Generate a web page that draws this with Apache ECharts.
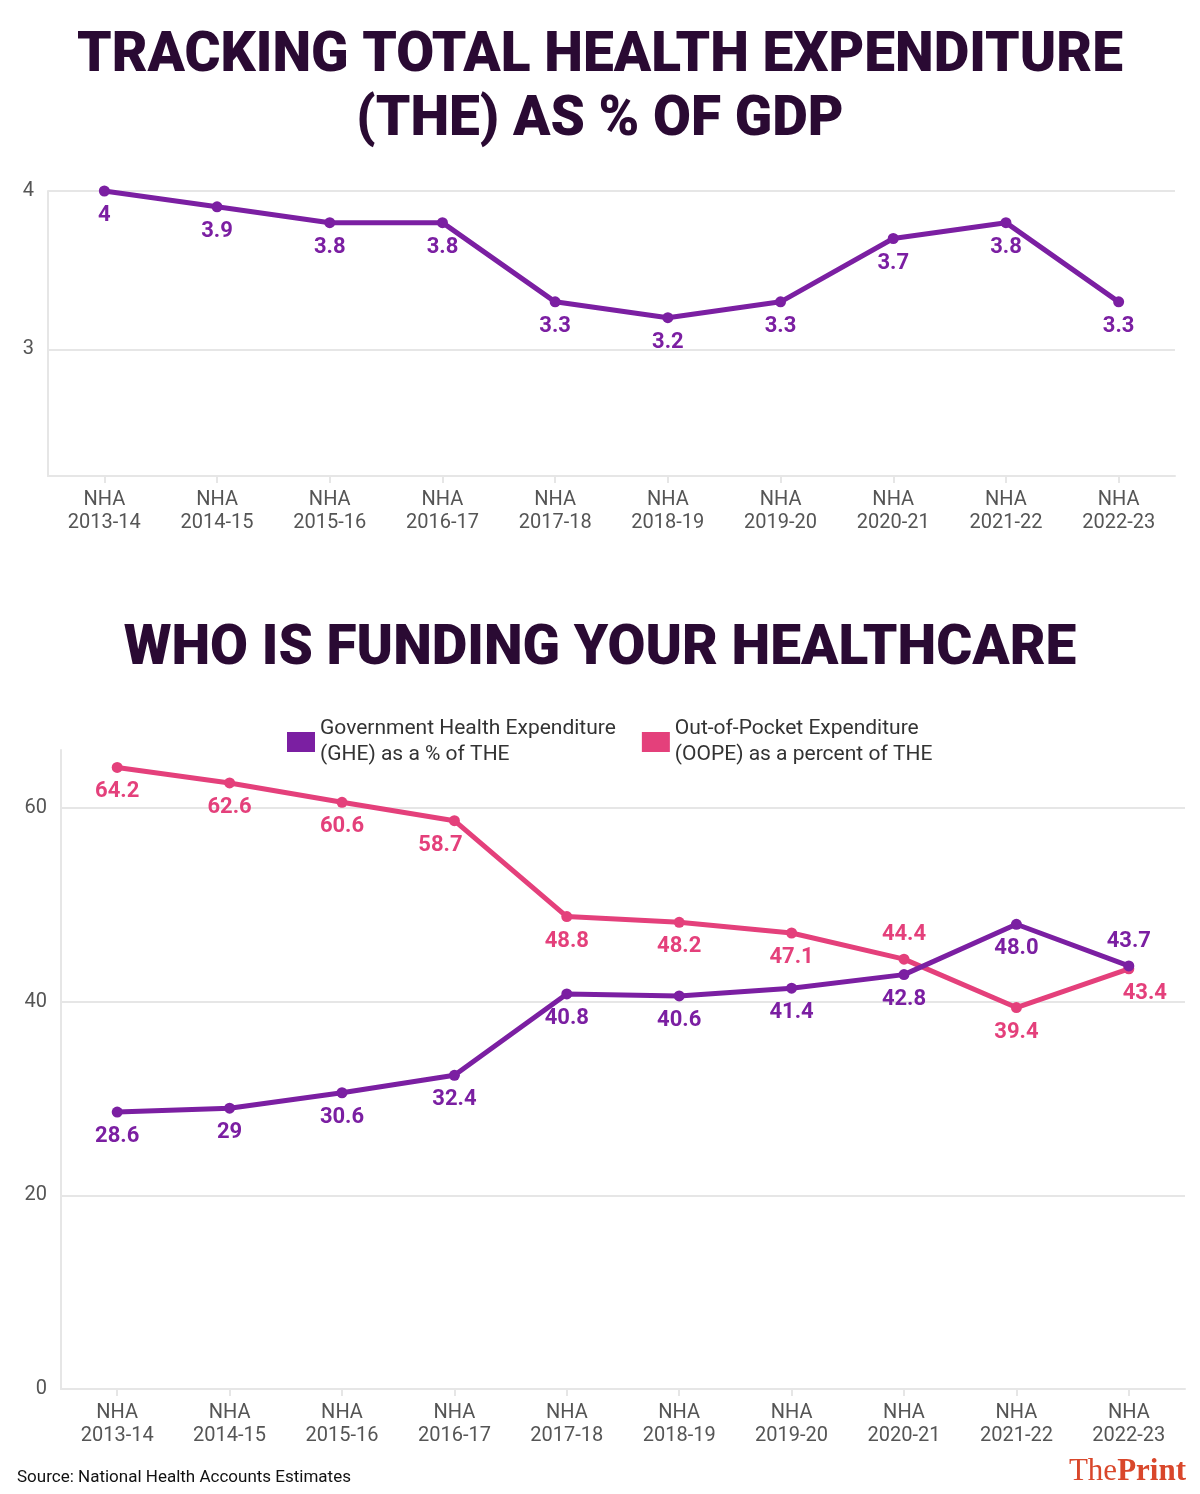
<!DOCTYPE html>
<html lang="en">
<head>
<meta charset="UTF-8">
<title>Health expenditure</title>
<script src="https://cdn.jsdelivr.net/npm/echarts@6/dist/echarts.min.js"></script>
<style>
  html, body { margin: 0; padding: 0; background: #fff; }
  #main { width: 1200px; height: 1494px; }
</style>
</head>
<body>
<div id="main"></div>
<script>
// data
var years = ['NHA\n2013-14', 'NHA\n2014-15', 'NHA\n2015-16', 'NHA\n2016-17', 'NHA\n2017-18',
             'NHA\n2018-19', 'NHA\n2019-20', 'NHA\n2020-21', 'NHA\n2021-22', 'NHA\n2022-23'];
var theGdp = [4, 3.9, 3.8, 3.8, 3.3, 3.2, 3.3, 3.7, 3.8, 3.3];
var ghe = [28.6, 29, 30.6, 32.4, 40.8, 40.6, 41.4, 42.8, 48.0, 43.7];
var gheText = ['28.6', '29', '30.6', '32.4', '40.8', '40.6', '41.4', '42.8', '48.0', '43.7'];
var oope = [64.2, 62.6, 60.6, 58.7, 48.8, 48.2, 47.1, 44.4, 39.4, 43.4];
var oopeText = ['64.2', '62.6', '60.6', '58.7', '48.8', '48.2', '47.1', '44.4', '39.4', '43.4'];

var purple = '#7b1fa2';
var pink = '#e4407b';
var font = 'Roboto, "Noto Sans", sans-serif';

var chart = echarts.init(document.getElementById('main'));

function axisX(grid) {
    return {
        type: 'category', gridIndex: grid, data: years,
        axisLine: { lineStyle: { color: '#e6e6e6', width: 2 } },
        axisTick: { show: true, alignWithLabel: true, lineStyle: { color: '#e6e6e6', width: 2 }, length: 7 },
        axisLabel: { color: '#555', fontSize: 20, fontFamily: font, lineHeight: 23, margin: 12 }
    };
}

var option = {
    backgroundColor: '#fff',
    title: [
        { text: 'TRACKING TOTAL HEALTH EXPENDITURE\n(THE) AS % OF GDP', left: 'center', top: 20,
          textStyle: { color: '#2a0a33', fontSize: 55, fontWeight: 900, fontFamily: font, lineHeight: 64 } },
        { text: 'WHO IS FUNDING YOUR HEALTHCARE', left: 'center', top: 618,
          textStyle: { color: '#2a0a33', fontSize: 55, fontWeight: 900, fontFamily: font } }
    ],
    legend: {
        top: 711, left: 282, itemGap: 26, itemWidth: 28, itemHeight: 20, icon: 'rect',
        data: ['Government Health Expenditure\n(GHE) as a % of THE', 'Out-of-Pocket Expenditure\n(OOPE) as a percent of THE'],
        textStyle: { color: '#333', fontSize: 21, fontFamily: font, lineHeight: 26 }
    },
    grid: [
        { left: 48, right: 25, top: 191, bottom: 1018 },
        { left: 61, right: 15, top: 750, bottom: 105 }
    ],
    xAxis: [axisX(0), axisX(1)],
    yAxis: [
        { type: 'value', gridIndex: 0, min: 2.2, max: 4, interval: 0.1,
          axisLine: { show: true, lineStyle: { color: '#e6e6e6', width: 2 } },
          axisTick: { show: false }, splitLine: { show: false },
          axisLabel: { color: '#555', fontSize: 20, fontFamily: font, margin: 14,
                       formatter: function (v) { return Math.abs(v - Math.round(v)) < 1e-6 ? String(Math.round(v)) : ''; } } },
        { type: 'value', gridIndex: 1, min: 0, max: 66, interval: 20,
          axisLine: { show: true, lineStyle: { color: '#e6e6e6', width: 2 } },
          axisTick: { show: false },
          splitLine: { showMaxLine: false, lineStyle: { color: '#e6e6e6', width: 2 } },
          axisLabel: { color: '#555', fontSize: 20, fontFamily: font, margin: 14, showMaxLabel: false } }
    ],
    series: [
        { type: 'line', xAxisIndex: 0, yAxisIndex: 0, data: theGdp, color: purple,
          symbol: 'circle', symbolSize: 11, lineStyle: { width: 5 },
          label: { show: true, position: 'bottom', distance: 8, color: purple, fontSize: 22, fontWeight: 'bold', fontFamily: font },
          markLine: { silent: true, symbol: 'none', label: { show: false }, z: 1,
                      lineStyle: { color: '#e6e6e6', width: 2, type: 'solid' },
                      data: [{ yAxis: 3 }, { yAxis: 4 }] },
          z: 3 },
        { type: 'line', name: 'Out-of-Pocket Expenditure\n(OOPE) as a percent of THE', xAxisIndex: 1, yAxisIndex: 1,
          color: pink, symbol: 'circle', symbolSize: 11, lineStyle: { width: 5 },
          data: oope.map(function (v, i) {
              var d = { value: v, label: { position: i === 7 ? 'top' : 'bottom' } };
              if (i === 3) d.label = { position: 'bottom', offset: [-14, 0] };
              if (i === 9) d.label = { position: 'bottom', offset: [16, 0] };
              return d;
          }),
          label: { show: true, distance: 8, color: pink, fontSize: 22, fontWeight: 'bold', fontFamily: font,
                   formatter: function (p) { return oopeText[p.dataIndex]; } } },
        { type: 'line', name: 'Government Health Expenditure\n(GHE) as a % of THE', xAxisIndex: 1, yAxisIndex: 1,
          color: purple, symbol: 'circle', symbolSize: 11, lineStyle: { width: 5 },
          data: ghe.map(function (v, i) {
              return { value: v, label: { position: i === 9 ? 'top' : 'bottom' } };
          }),
          label: { show: true, distance: 8, color: purple, fontSize: 22, fontWeight: 'bold', fontFamily: font,
                   formatter: function (p) { return gheText[p.dataIndex]; } } }
    ],
    graphic: [
        { type: 'text', left: 17, top: 1469,
          style: { text: 'Source: National Health Accounts Estimates', fill: '#111', font: '17px ' + font } },
        { type: 'text', right: 14, top: 1456,
          style: { rich: { a: { fill: '#d9472b', font: '31px "Liberation Serif", serif' },
                           b: { fill: '#d9472b', font: 'bold 31px "Liberation Serif", serif' } },
                   text: '{a|The}{b|Print}' } }
    ]
};
chart.setOption(option);
</script>
</body>
</html>
